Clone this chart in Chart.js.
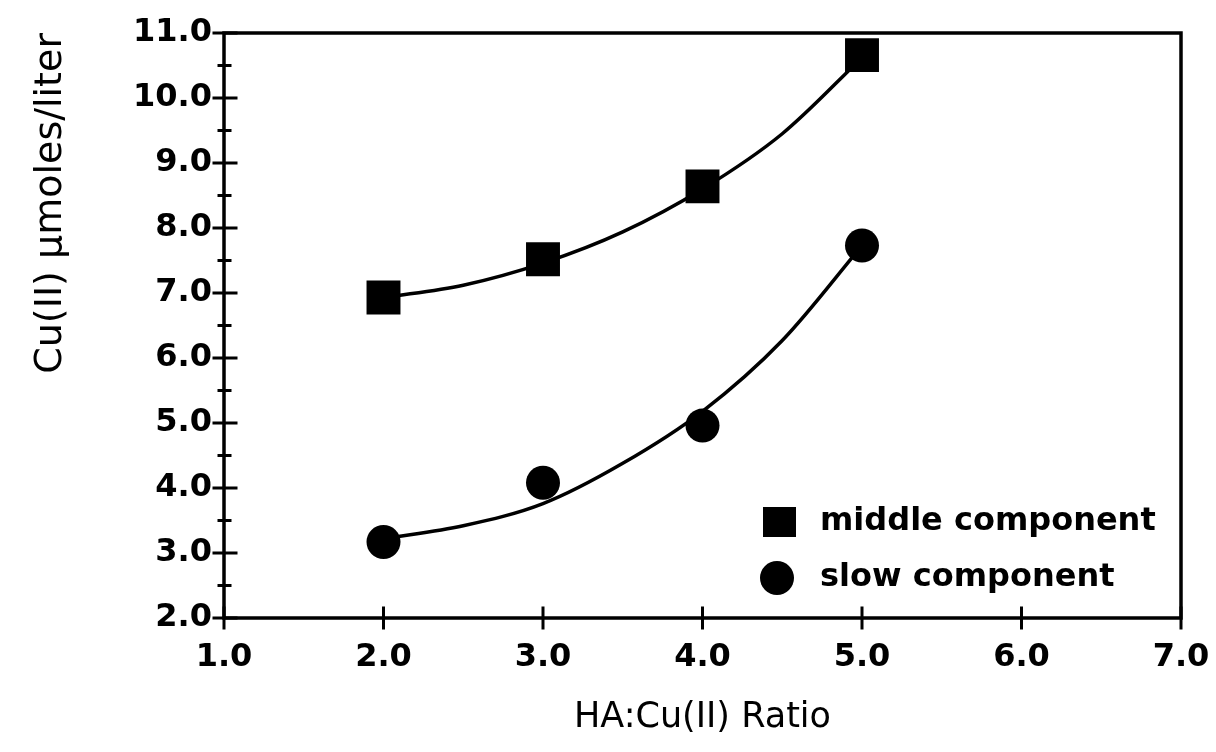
<!DOCTYPE html>
<html>
<head>
<meta charset="utf-8">
<script src="https://cdn.jsdelivr.net/npm/chart.js@4/dist/chart.umd.min.js"></script>
<style>
html,body{margin:0;padding:0;background:#fff;}
#wrap{width:1216px;height:752px;}
</style>
</head>
<body>
<div id="wrap"><canvas id="c" width="1216" height="752"></canvas></div>
<script>
// ---- data ----
const ratio = [2.0, 3.0, 4.0, 5.0];
const middleVals = [6.93, 7.52, 8.64, 10.66];
const slowVals = [3.17, 4.08, 4.96, 7.73];
const curveX = [2.0, 2.5, 3.0, 3.5, 4.0, 4.5, 5.0];
const middleCurve = [6.93, 7.12, 7.46, 7.94, 8.60, 9.45, 10.62];
const slowCurve = [3.22, 3.42, 3.76, 4.38, 5.18, 6.27, 7.73];
const seriesLabels = ['middle component', 'slow component'];
const xTickValues = [1, 2, 3, 4, 5, 6, 7];
const yTickValues = [2, 3, 4, 5, 6, 7, 8, 9, 10, 11];
const xTitle = 'HA:Cu(II) Ratio';
const yTitle = 'Cu(II) \u03BCmoles/liter';

const toPts = (xs, ys) => xs.map((x, i) => ({x: x, y: ys[i]}));

const frame = {
  id: 'frame',
  afterDatasetsDraw(chart) {
    const ctx = chart.ctx, a = chart.chartArea;
    const xs = chart.scales.x, ys = chart.scales.y;
    ctx.save();
    ctx.strokeStyle = '#000';
    ctx.lineWidth = 3.5;
    ctx.lineCap = 'square';
    ctx.strokeRect(a.left, a.top, a.right - a.left, a.bottom - a.top);
    ctx.lineWidth = 3;
    ctx.beginPath();
    xTickValues.forEach(v => {
      const px = xs.getPixelForValue(v);
      ctx.moveTo(px, a.bottom - 10); ctx.lineTo(px, a.bottom + 10);
    });
    yTickValues.forEach(v => {
      const py = ys.getPixelForValue(v);
      ctx.moveTo(a.left - 10, py); ctx.lineTo(a.left + 12, py);
      if (v < 11) {
        const pm = ys.getPixelForValue(v + 0.5);
        ctx.moveTo(a.left - 5, pm); ctx.lineTo(a.left + 6, pm);
      }
    });
    ctx.stroke();
    // legend
    const lx = 779, ly = [522, 578];
    ctx.fillStyle = '#000';
    ctx.fillRect(lx - 16, ly[0] - 15, 33, 30);
    ctx.beginPath(); ctx.arc(lx - 2, ly[1], 17, 0, Math.PI * 2); ctx.fill();
    ctx.font = 'bold 32px "DejaVu Sans"';
    ctx.textBaseline = 'middle';
    ctx.textAlign = 'left';
    ctx.fillText(seriesLabels[0], 820, ly[0]);
    ctx.fillText(seriesLabels[1], 820, ly[1]);
    ctx.restore();
  }
};

new Chart(document.getElementById('c'), {
  type: 'scatter',
  data: {
    datasets: [
      {label: seriesLabels[0] + ' fit', data: toPts(curveX, middleCurve), showLine: true,
       borderColor: '#000', borderWidth: 3.5, pointRadius: 0, cubicInterpolationMode: 'monotone', fill: false},
      {label: seriesLabels[1] + ' fit', data: toPts(curveX, slowCurve), showLine: true,
       borderColor: '#000', borderWidth: 3.5, pointRadius: 0, cubicInterpolationMode: 'monotone', fill: false},
      {label: seriesLabels[0], data: toPts(ratio, middleVals), pointStyle: 'rect',
       pointRadius: 24, backgroundColor: '#000', borderColor: '#000', borderWidth: 0},
      {label: seriesLabels[1], data: toPts(ratio, slowVals), pointStyle: 'circle',
       pointRadius: 17, backgroundColor: '#000', borderColor: '#000', borderWidth: 0}
    ]
  },
  options: {
    responsive: false,
    animation: false,
    layout: {padding: {top: 33, right: 35, left: 0, bottom: 0}},
    plugins: {legend: {display: false}, tooltip: {enabled: false}},
    scales: {
      x: {
        type: 'linear', min: 1, max: 7,
        afterBuildTicks: s => { s.ticks = xTickValues.map(v => ({value: v})); },
        afterFit: s => { s.height = 134; s.paddingLeft = 0; s.paddingRight = 0; },
        grid: {display: false, drawTicks: false},
        border: {display: false},
        ticks: {color: '#000', padding: 20, font: {family: 'DejaVu Sans', size: 32, weight: 'bold'},
                callback: v => Number(v).toFixed(1), maxRotation: 0},
        title: {display: true, text: xTitle, color: '#000', font: {family: 'DejaVu Sans', size: 35},
                padding: {top: 0, bottom: 13}}
      },
      y: {
        type: 'linear', min: 2, max: 11,
        afterBuildTicks: s => { s.ticks = yTickValues.map(v => ({value: v})); },
        afterFit: s => { s.width = 224; s.paddingTop = 0; s.paddingBottom = 0; },
        grid: {display: false, drawTicks: false},
        border: {display: false},
        ticks: {color: '#000', padding: 12, font: {family: 'DejaVu Sans', size: 32, weight: 'bold'},
                callback: v => Number(v).toFixed(1)},
        title: {display: true, text: yTitle, color: '#000', align: 'end', font: {family: 'DejaVu Sans', size: 38},
                padding: {top: 28, bottom: 0}}
      }
    }
  },
  plugins: [frame]
});
</script>
</body>
</html>
